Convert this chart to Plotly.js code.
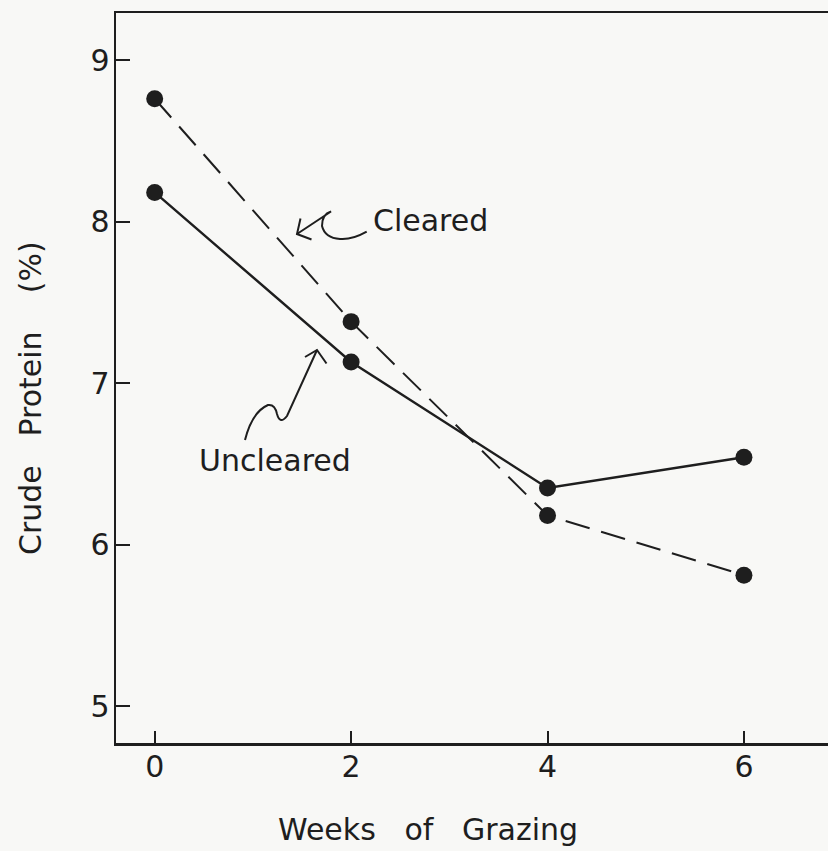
<!DOCTYPE html>
<html>
<head>
<meta charset="utf-8">
<script src="https://cdn.plot.ly/plotly-3.0.1.min.js"></script>
<style>
html,body{margin:0;padding:0;background:#f8f8f6;}
#chart{width:828px;height:851px;}
</style>
</head>
<body>
<div id="chart"></div>
<script>
// ---- data ----
var weeks = [0, 2, 4, 6];
var cleared = [8.76, 7.38, 6.18, 5.81];
var uncleared = [8.18, 7.13, 6.35, 6.54];
var xTickVals = [0, 2, 4, 6];
var xTickText = ["0", "2", "4", "6"];
var yTickVals = [5, 6, 7, 8, 9];
var yTickText = ["5", "6", "7", "8", "9"];
var seriesNames = ["Cleared", "Uncleared"];

// ---- geometry (pixels) ----
var W = 828, H = 851;
var L = 116, R = 828, T = 13, B = 743;
function P(X, Y) { return [(X - L) / (R - L), (B - Y) / (B - T)]; }
function pathC(segs) {
  return segs.map(function (s) {
    var cmd = s[0];
    var nums = s.slice(1);
    var out = [];
    for (var i = 0; i < nums.length; i += 2) {
      var q = P(nums[i], nums[i + 1]);
      out.push(q[0].toFixed(5) + ',' + q[1].toFixed(5));
    }
    return cmd + ' ' + out.join(' ');
  }).join(' ');
}

var ink = '#1e1e1e';
var font = 'DejaVu Sans, sans-serif';

var traces = [
  {
    x: weeks, y: cleared, name: seriesNames[0], mode: 'lines+markers',
    line: {color: ink, width: 2, dash: '25px,12px'},
    marker: {color: ink, size: 17}
  },
  {
    x: weeks, y: uncleared, name: seriesNames[1], mode: 'lines+markers',
    line: {color: ink, width: 2.4},
    marker: {color: ink, size: 17}
  }
];

var arrowLine = {color: ink, width: 2};
var shapes = [
  // Cleared squiggle arrow
  {type: 'path', xref: 'paper', yref: 'paper', line: arrowLine,
   path: pathC([
     ['M', 366.7, 231.7],
     ['Q', 352, 240, 340, 239],
     ['Q', 325, 238, 322, 226],
     ['Q', 322, 214, 331, 211.5],
     ['L', 297, 234]
   ])},
  {type: 'path', xref: 'paper', yref: 'paper', line: arrowLine,
   path: pathC([['M', 300.5, 218.5], ['L', 297, 234], ['L', 311.5, 239.5]])},
  // Uncleared squiggle arrow
  {type: 'path', xref: 'paper', yref: 'paper', line: arrowLine,
   path: pathC([
     ['M', 245, 440],
     ['Q', 252, 412, 268, 405],
     ['Q', 275, 404, 277, 414],
     ['Q', 280, 425, 287, 416],
     ['L', 317, 350]
   ])},
  {type: 'path', xref: 'paper', yref: 'paper', line: arrowLine,
   path: pathC([['M', 305, 357], ['L', 317, 350], ['L', 326.5, 363.5]])}
];

function ann(text, X, Y, extra) {
  var q = P(X, Y);
  var a = {text: text, xref: 'paper', yref: 'paper', x: q[0], y: q[1],
           showarrow: false, xanchor: 'center', yanchor: 'middle',
           font: {family: font, size: 30, color: ink}};
  for (var k in extra) a[k] = extra[k];
  return a;
}
var nb = '\u00a0';
var annotations = [
  ann(seriesNames[0], 430.5, 220),
  ann(seriesNames[1], 275, 461),
  ann('Weeks' + nb + nb + nb + 'of' + nb + nb + nb + 'Grazing', 428, 830),
  ann('Crude' + nb + nb + nb + 'Protein' + nb + nb + nb + nb + '(%)', 30, 398, {textangle: -90})
];

var axisCommon = {
  showgrid: false, zeroline: false, showline: true,
  linecolor: ink, linewidth: 2.5,
  ticks: 'inside', tickcolor: ink, tickwidth: 2,
  tickfont: {family: font, size: 30, color: ink},
  fixedrange: true
};

var layout = {
  width: W, height: H,
  paper_bgcolor: '#f8f8f6', plot_bgcolor: '#f8f8f6',
  margin: {l: L, r: W - R, t: T, b: H - B, pad: 0},
  showlegend: false,
  xaxis: Object.assign({}, axisCommon, {
    range: [-0.394, 6.856], tickvals: xTickVals, ticktext: xTickText,
    ticklen: 12, mirror: true, ticklabelstandoff: -5
  }),
  yaxis: Object.assign({}, axisCommon, {
    range: [4.771, 9.291], tickvals: yTickVals, ticktext: yTickText,
    ticklen: 14, ticklabelstandoff: -2
  }),
  shapes: shapes,
  annotations: annotations
};

Plotly.newPlot('chart', traces, layout, {displayModeBar: false, staticPlot: true});
</script>
</body>
</html>
